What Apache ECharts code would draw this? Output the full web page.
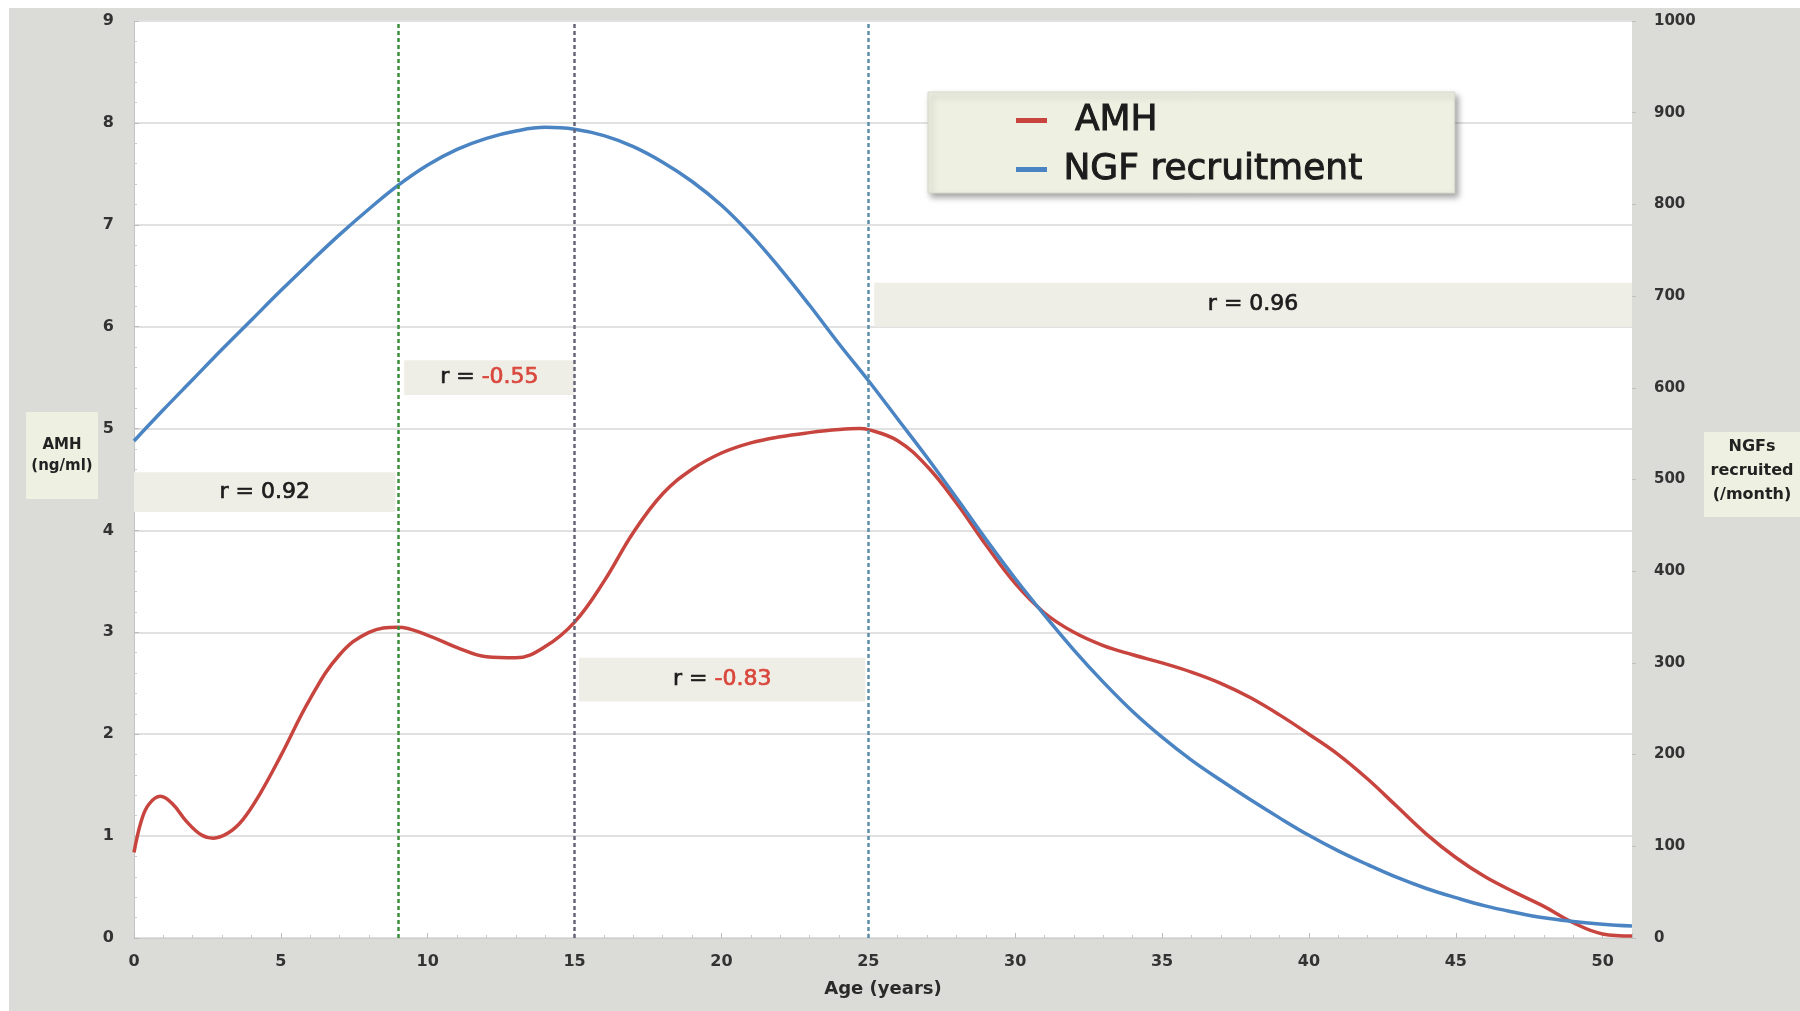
<!DOCTYPE html>
<html>
<head>
<meta charset="utf-8">
<script src="https://cdn.jsdelivr.net/npm/echarts@6/dist/echarts.min.js"></script>
<style>
  html, body { margin: 0; padding: 0; background: #ffffff; }
  #chart { width: 1800px; height: 1011px; }
</style>
</head>
<body>
<div id="chart"></div>
<script>
// Serum AMH (ng/ml) by age (years)
const amhAges = [0, 0.25, 0.5, 0.9, 1.3, 1.8, 2.3, 2.7, 3.2, 3.7, 4.3,
  5, 6, 7, 8, 9, 10, 11, 12, 13, 14, 15, 16, 17, 18, 19, 20, 21, 22, 23, 24, 24.7, 25,
  26, 27, 28, 29, 30, 31, 32, 33, 34, 35, 36, 37, 38, 39, 40, 41, 42, 43, 44, 45,
  46, 47, 48, 49, 50, 51];
const amhValues = [0.84, 1.15, 1.31, 1.39, 1.32, 1.14, 1.01, 0.98, 1.03, 1.16, 1.42,
  1.79, 2.35, 2.78, 3.0, 3.05, 2.97, 2.85, 2.76, 2.75, 2.86, 3.1, 3.5, 3.98, 4.36, 4.6, 4.76, 4.86, 4.92, 4.96, 4.99, 5.0, 4.99,
  4.88, 4.63, 4.27, 3.86, 3.48, 3.19, 3.0, 2.87, 2.78, 2.7, 2.61, 2.5, 2.36, 2.19, 2.0, 1.8, 1.56, 1.29, 1.02, 0.79,
  0.6, 0.45, 0.31, 0.15, 0.04, 0.02];

// Non-growing follicles recruited per month by age (years)
const ngfAges = [0, 1, 2, 3, 4, 5, 6, 7, 8, 9, 10, 11, 12, 13, 14, 15, 16, 17, 18, 19, 20,
  21, 22, 23, 24, 25, 26, 27, 28, 29, 30, 31, 32, 33, 34, 35, 36, 37, 38, 39, 40,
  41, 42, 43, 44, 45, 46, 47, 48, 49, 50, 51];
const ngfValues = [542, 576, 609, 642, 674, 706, 737, 767, 795, 821, 843, 860, 872, 880, 884, 882, 875, 863, 846, 825, 799,
  767, 730, 690, 648, 608, 566, 524, 480, 435, 392, 352, 314, 279, 247, 219, 194, 172, 151, 131, 112,
  95, 80, 66, 54, 44, 35, 28, 22, 18, 15, 13];

// Axis ranges and tick steps
const ageRange = [0, 51];   const ageStep = 5;
const amhRange = [0, 9];    const amhStep = 1;
const ngfRange = [0, 1000]; const ngfStep = 100;

// Age boundaries (years) and correlation coefficient for each age span
const boundaryAges = [9, 15, 25];
const corrSpans = [[0, 9], [9, 15], [15, 25], [25, 51]];
const corrValues = ['0.92', '-0.55', '-0.83', '0.96'];

const RED = '#c8453f';
const BLUE = '#4a84c3';
const FONT = 'DejaVu Sans';
const INK = '#1c1c1c';

// Band placement for each correlation label (AMH units / small age insets)
const bandLayout = [
  { lo: 4.18, hi: 4.57, padL: 0.0, padR: 0.1 },
  { lo: 5.33, hi: 5.67, padL: 0.2, padR: 0.0 },
  { lo: 2.32, hi: 2.75, padL: 0.15, padR: 0.1 },
  { lo: 6.0, hi: 6.43, padL: 0.2, padR: 0.0 }
];
const boundaryColors = ['#3d8f3d', '#65657a', '#5b8ea8'];

const bandData = corrSpans.map((span, i) => {
  const v = corrValues[i];
  const neg = v.charAt(0) === '-';
  const lay = bandLayout[i];
  return [
    {
      xAxis: span[0] + lay.padL, yAxis: lay.hi,
      label: {
        formatter: neg ? '{k|r = }{n|' + v + '}' : '{k|r = ' + v + '}'
      }
    },
    { xAxis: span[1] - lay.padR, yAxis: lay.lo }
  ];
});

const chart = echarts.init(document.getElementById('chart'), null, { renderer: 'canvas' });

const option = {
  animation: false,
  backgroundColor: '#dbdcd8',
  textStyle: { fontFamily: FONT },
  grid: {
    left: 134, right: 168, top: 21, bottom: 73,
    show: true, backgroundColor: '#ffffff', borderWidth: 0
  },
  legend: {
    orient: 'vertical',
    left: 928, top: 92,
    data: ['AMH', 'NGF recruitment'],
    formatter: name => (name === 'AMH' ? '  ' : ' ') + name,
    icon: 'rect',
    itemWidth: 31, itemHeight: 5,
    itemGap: 12,
    padding: [10, 92, 5, 88],
    backgroundColor: '#eef0e2',
    borderColor: '#d6d8cc', borderWidth: 1,
    shadowColor: 'rgba(0,0,0,0.35)', shadowBlur: 6, shadowOffsetX: 3, shadowOffsetY: 4,
    textStyle: {
      fontFamily: FONT, fontSize: 36, color: INK,
      textBorderColor: INK, textBorderWidth: 1
    }
  },
  xAxis: {
    type: 'value',
    min: ageRange[0], max: ageRange[1], interval: ageStep,
    name: 'Age (years)',
    nameLocation: 'middle',
    nameGap: 42,
    nameTextStyle: { fontFamily: FONT, fontSize: 18, fontWeight: 'bold', color: '#2a2a2a' },
    axisLine: { show: true, lineStyle: { color: '#cdcdcd', width: 1 } },
    axisTick: { show: true, inside: true, length: 5, lineStyle: { color: '#bdbdbd' } },
    minorTick: { show: true, splitNumber: 5, length: 3, lineStyle: { color: '#c8c8c8' } },
    splitLine: { show: false },
    axisLabel: {
      showMaxLabel: false, margin: 16,
      fontFamily: FONT, fontSize: 16, fontWeight: 'bold', color: '#333333'
    }
  },
  yAxis: [
    {
      type: 'value',
      min: amhRange[0], max: amhRange[1], interval: amhStep,
      position: 'left',
      axisLine: { show: true, lineStyle: { color: '#c4c4c4', width: 1 } },
      axisTick: { show: true, inside: true, length: 5, lineStyle: { color: '#bdbdbd' } },
      minorTick: { show: true, splitNumber: 5, length: 3, lineStyle: { color: '#cacaca' } },
      splitLine: { show: true, lineStyle: { color: '#e1e1e1', width: 2 } },
      axisLabel: { margin: 20, fontFamily: FONT, fontSize: 16, fontWeight: 'bold', color: '#333333' }
    },
    {
      type: 'value',
      min: ngfRange[0], max: ngfRange[1], interval: ngfStep,
      position: 'right',
      axisLine: { show: false },
      axisTick: { show: true, length: 4, lineStyle: { color: '#c0c0c0' } },
      splitLine: { show: false },
      axisLabel: {
        margin: 22, fontFamily: FONT, fontSize: 15, fontWeight: 'bold', color: '#333333',
        formatter: v => String(v)
      }
    }
  ],
  graphic: [
    { type: 'rect', shape: { x: 0, y: 0, width: 1800, height: 8 }, style: { fill: '#ffffff' }, silent: true },
    { type: 'rect', shape: { x: 0, y: 0, width: 9, height: 1011 }, style: { fill: '#ffffff' }, silent: true },
    { type: 'rect', shape: { x: 26, y: 412, width: 72, height: 87 }, style: { fill: '#eef0e1' }, silent: true },
    {
      type: 'text', x: 62, y: 456, silent: true,
      style: {
        text: 'AMH\n(ng/ml)', fill: '#222222',
        font: 'bold 15px "DejaVu Sans"', align: 'center', verticalAlign: 'middle', lineHeight: 21
      }
    },
    { type: 'rect', shape: { x: 1704, y: 432, width: 96, height: 85 }, style: { fill: '#eef0e1' }, silent: true },
    {
      type: 'text', x: 1752, y: 471, silent: true,
      style: {
        text: 'NGFs\nrecruited\n(/month)', fill: '#222222',
        font: 'bold 16px "DejaVu Sans"', align: 'center', verticalAlign: 'middle', lineHeight: 24
      }
    }
  ],
  series: [
    {
      name: 'AMH',
      type: 'line',
      yAxisIndex: 0,
      smooth: 0.4,
      showSymbol: false,
      data: amhAges.map((a, i) => [a, amhValues[i]]),
      lineStyle: { color: RED, width: 3.5 },
      itemStyle: { color: RED },
      z: 3,
      markArea: {
        silent: true,
        itemStyle: { color: '#efeee6' },
        label: {
          show: true,
          position: 'inside',
          fontFamily: FONT,
          rich: {
            k: { fontFamily: FONT, fontSize: 22, color: INK, textBorderColor: INK, textBorderWidth: 0.7 },
            n: { fontFamily: FONT, fontSize: 22, color: '#d9473d', textBorderColor: '#d9473d', textBorderWidth: 0.7 }
          }
        },
        data: bandData
      },
      markLine: {
        silent: true,
        symbol: ['none', 'none'],
        label: { show: false },
        lineStyle: { type: [4, 3], width: 2.5 },
        data: boundaryAges.map((a, i) => ({ xAxis: a, lineStyle: { color: boundaryColors[i] } }))
      }
    },
    {
      name: 'NGF recruitment',
      type: 'line',
      yAxisIndex: 1,
      smooth: 0.4,
      showSymbol: false,
      data: ngfAges.map((a, i) => [a, ngfValues[i]]),
      lineStyle: { color: BLUE, width: 3.5 },
      itemStyle: { color: BLUE },
      z: 4
    }
  ]
};

chart.setOption(option);
</script>
</body>
</html>
